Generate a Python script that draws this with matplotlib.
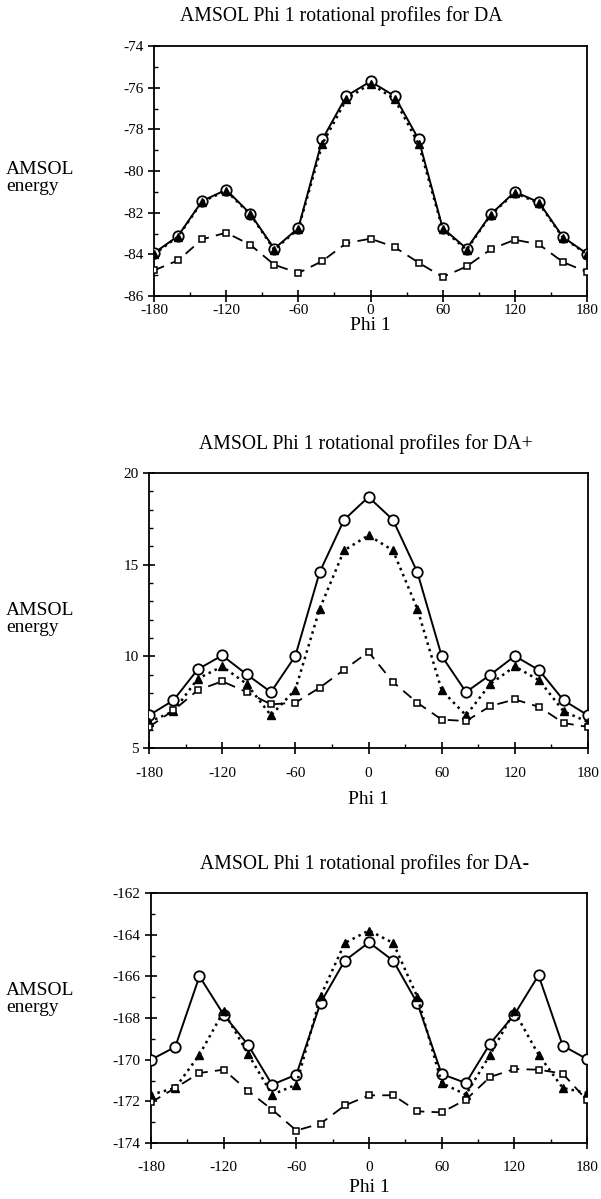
import matplotlib
matplotlib.use('Agg')
import matplotlib.pyplot as plt
from matplotlib.ticker import MultipleLocator

matplotlib.rcParams.update({'font.family': 'Liberation Serif',
                            'axes.unicode_minus': False})

phi = [-180, -160, -140, -120, -100, -80, -60, -40, -20, 0,
       20, 40, 60, 80, 100, 120, 140, 160, 180]

# DA
da_circ = [-83.94, -83.12, -81.44, -80.90, -82.05, -83.73, -82.74, -78.48, -76.40, -75.70,
           -76.40, -78.48, -82.74, -83.73, -82.08, -81.00, -81.50, -83.17, -83.97]
da_tri = [-84.00, -83.15, -81.47, -80.95, -82.08, -83.78, -82.78, -78.70, -76.55, -75.80,
          -76.55, -78.70, -82.80, -83.78, -82.10, -81.05, -81.55, -83.20, -84.00]
da_sq = [-84.77, -84.29, -83.28, -82.96, -83.54, -84.50, -84.90, -84.32, -83.46, -83.25,
         -83.65, -84.40, -85.09, -84.58, -83.76, -83.30, -83.52, -84.37, -84.85]

# DA+
dap_circ = [6.78, 7.60, 9.29, 10.05, 9.02, 8.05, 10.02, 14.60, 17.45, 18.69,
            17.45, 14.60, 10.02, 8.05, 9.00, 10.02, 9.24, 7.60, 6.78]
dap_tri = [6.42, 7.00, 8.78, 9.45, 8.50, 6.78, 8.18, 12.60, 15.78, 16.60,
           15.78, 12.60, 8.15, 6.78, 8.50, 9.45, 8.69, 7.00, 6.42]
dap_sq = [6.15, 7.05, 8.15, 8.64, 8.05, 7.38, 7.47, 8.29, 9.27, 10.24,
          8.60, 7.47, 6.55, 6.47, 7.29, 7.65, 7.24, 6.36, 6.15]

# DA-
dam_circ = [-170.00, -169.39, -166.00, -167.84, -169.28, -171.20, -170.72, -167.27, -165.25, -164.37,
            -165.25, -167.30, -170.69, -171.12, -169.23, -167.84, -165.95, -169.33, -169.97]
dam_tri = [-171.68, -171.36, -169.76, -167.68, -169.71, -171.68, -171.20, -166.96, -164.40, -163.80,
           -164.40, -167.00, -171.12, -171.68, -169.76, -167.68, -169.76, -171.36, -171.60]
dam_sq = [-172.05, -171.36, -170.64, -170.48, -171.49, -172.40, -173.40, -173.07, -172.20, -171.71,
          -171.71, -172.48, -172.53, -171.92, -170.83, -170.45, -170.48, -170.67, -171.95]

titles = ["AMSOL Phi 1 rotational profiles for DA",
          "AMSOL Phi 1 rotational profiles for DA+",
          "AMSOL Phi 1 rotational profiles for DA-"]

# (series..., ylim, major, axes box px, title xy px, xlabel y px, ylabel y px, xtick pad)
panels = [
    (da_circ, da_tri, da_sq, (-86, -74), 2, (154, 587, 46, 296), (341, 16), 326, 178, 2),
    (dap_circ, dap_tri, dap_sq, (5, 20), 5, (149, 588, 473, 748), (366, 444), 800, 619, 10),
    (dam_circ, dam_tri, dam_sq, (-174, -162), 2, (151, 587, 893, 1143), (365, 864), 1188, 999, 9),
]

W, H = 601, 1199
fig = plt.figure(figsize=(W / 100, H / 100), dpi=100)

for title, (circ, tri, sq, ylim, major, box, tpos, xl_y, yl_y, xpad) in zip(titles, panels):
    x0, x1, y0, y1 = box
    ax = fig.add_axes([x0 / W, 1 - y1 / H, (x1 - x0) / W, (y1 - y0) / H])
    ax.plot(phi, circ, '-', color='black', lw=1.4, marker='o', ms=7.5,
            mfc='white', mec='black', mew=1.3, zorder=3)
    ax.plot(phi, tri, ':', color='black', lw=1.8, marker='^', ms=5.5,
            mfc='black', mec='black', zorder=4)
    ax.plot(phi, sq, '--', color='black', lw=1.3, dashes=(6, 4), marker='s', ms=5,
            mfc='white', mec='black', mew=1.1, zorder=5)

    ax.set_xlim(-180, 180)
    ax.set_ylim(*ylim)
    ax.xaxis.set_major_locator(MultipleLocator(60))
    ax.xaxis.set_minor_locator(MultipleLocator(30))
    ax.yaxis.set_major_locator(MultipleLocator(major))
    ax.yaxis.set_minor_locator(MultipleLocator(1))
    ax.tick_params(which='major', direction='inout', length=8, width=1.2,
                   labelsize=11)
    ax.tick_params(axis='x', which='major', pad=xpad)
    ax.tick_params(which='minor', direction='in', length=3, width=1.0)
    for s in ax.spines.values():
        s.set_linewidth(1.3)

    fig.text(tpos[0] / W, 1 - tpos[1] / H, title, fontsize=14.2,
             ha='center', va='center')
    fig.text(((x0 + x1) / 2) / W, 1 - xl_y / H, "Phi 1", fontsize=14,
             ha='center', va='center')
    fig.text(6 / W, 1 - yl_y / H, "AMSOL\nenergy", fontsize=14,
             ha='left', va='center', linespacing=0.95)

fig.savefig("out.png", dpi=100)
